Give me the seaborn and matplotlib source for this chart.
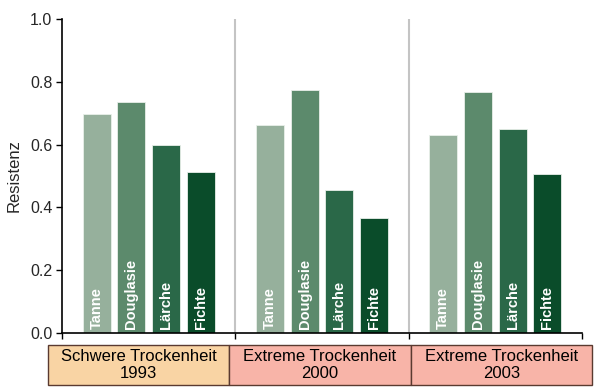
import matplotlib
matplotlib.use("Agg")
import matplotlib.pyplot as plt
import seaborn as sns
import pandas as pd
from matplotlib.patches import Rectangle

events = ["Schwere Trockenheit\n1993", "Extreme Trockenheit\n2000", "Extreme Trockenheit\n2003"]
species = ["Tanne", "Douglasie", "Lärche", "Fichte"]
resistenz_1993 = [0.697, 0.735, 0.598, 0.512]
resistenz_2000 = [0.663, 0.773, 0.455, 0.366]
resistenz_2003 = [0.632, 0.768, 0.650, 0.507]
species_colors = ["#96b09c", "#5c8a6c", "#2a6848", "#0a4c2a"]
box_colors = ["#f9d4a4", "#f8b4a8", "#f8b4a8"]

rows = []
for ev, vals in zip(events, [resistenz_1993, resistenz_2000, resistenz_2003]):
    for sp, v in zip(species, vals):
        rows.append({"event": ev, "species": sp, "value": v})
df = pd.DataFrame(rows)

sns.set_style("white")
plt.rcParams["font.family"] = ["Liberation Sans", "DejaVu Sans"]

fig = plt.figure(figsize=(6.0, 3.89), dpi=100)
ax = fig.add_axes([62/600, 1-333/389, 520/600, 314/389])

sns.barplot(data=df, x="event", y="value", hue="species", order=events,
            hue_order=species, palette=species_colors, saturation=1,
            width=0.8, gap=0.2,
            edgecolor="#e8efe9", linewidth=0.6, legend=False, ax=ax)

ax.set_xlim(-0.5, 2.5)
ax.set_ylim(0, 1.0)
ax.set_yticks([0, 0.2, 0.4, 0.6, 0.8, 1.0])
ax.set_yticklabels(["0.0", "0.2", "0.4", "0.6", "0.8", "1.0"], fontsize=11.5)
ax.set_xticks([-0.5, 0.5, 1.5, 2.5])
ax.set_xticklabels([])
ax.tick_params(axis="both", direction="out", length=4, width=1, color="black", left=True, bottom=True)
ax.tick_params(axis="y", pad=3)
ax.set_xlabel("")
ax.set_ylabel("Resistenz", fontsize=12, labelpad=6)
for s in ["top", "right"]:
    ax.spines[s].set_visible(False)
for s in ["left", "bottom"]:
    ax.spines[s].set_color("black")
    ax.spines[s].set_linewidth(1.2)

for xv in [0.5, 1.5]:
    ax.axvline(xv, color="#c4c4c4", linewidth=1.5, zorder=0)

# bar labels
for bar_container, sp in zip(ax.containers, species):
    for bar in bar_container:
        cx = bar.get_x() + bar.get_width() / 2
        ax.text(cx, 0.012, sp, rotation=90, ha="center", va="bottom",
                color="white", fontsize=10.5, fontweight="bold",
                family=["Liberation Sans Narrow", "Liberation Sans", "DejaVu Sans"])

# event boxes
edges = [48, 229, 411, 592]
for i, ev in enumerate(events):
    x0 = edges[i] / 600
    w = (edges[i+1] - edges[i]) / 600
    y0 = 1 - 385/389
    h = 40/389
    fig.add_artist(Rectangle((x0, y0), w, h, transform=fig.transFigure,
                             facecolor=box_colors[i], edgecolor="#5a3a30", linewidth=1.0))
    fig.text(x0 + w/2, y0 + h/2, ev, ha="center", va="center", fontsize=12,
             linespacing=1.1, color="black")

fig.savefig("out.png", dpi=100)
